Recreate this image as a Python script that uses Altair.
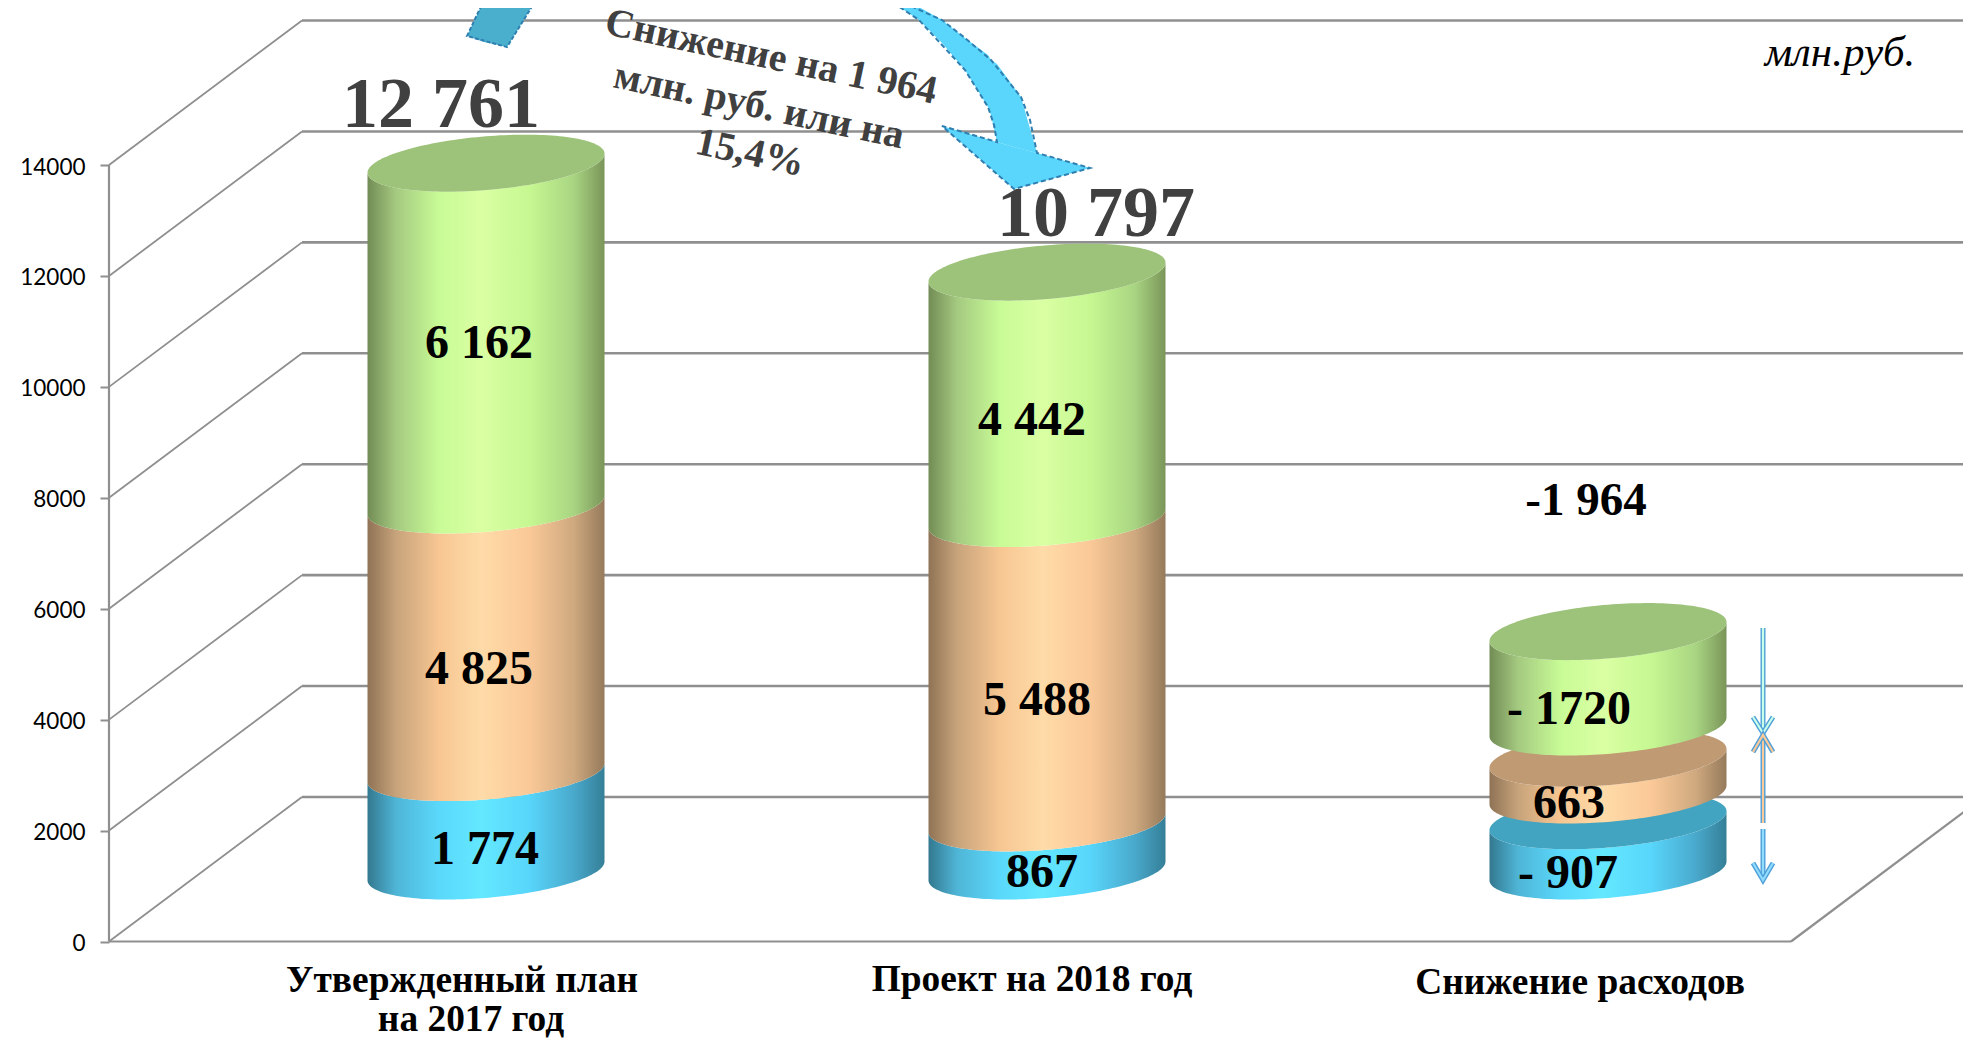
import numpy as np
import pandas as pd
import altair as alt

# ---- values ----
categories = ["Утвержденный план\nна 2017 год", "Проект на 2018 год", "Снижение расходов"]
blue_values = [1774, 867, 907]
orange_values = [4825, 5488, 663]
green_values = [6162, 4442, 1720]
bar_bases = [[0, 1774, 6599], [0, 867, 6355], [0, 1370, 2596]]
totals = ["12 761", "10 797", "-1 964"]
bar_centers = [486, 1047, 1608]
axis_ticks = [0, 2000, 4000, 6000, 8000, 10000, 12000, 14000]

# ---- page geometry (page pixels) ----
W, H = 1955, 1030
K = 776.5 / 14000      # px per unit on the value axis
Y0 = 941.5             # page y of value 0
def V(py):             # page y -> value
    return (Y0 - py) / K

DX, DV = 193, 144.5 / K    # depth of the floor
FX, FR = 109, 1791         # front floor ends
BAR_A = 118.5
BAR_DV = DV * 0.488        # bars stand in mid-depth
BAR_S, BAR_H = 9.5 / K, 26.9 / K
GREY = "#8f8f8f"

xs = alt.Scale(domain=[8, 8 + W], range=[0, W], nice=False, zero=False)
ys = alt.Scale(domain=[V(8 + H), V(8)], range=[H, 0], nice=False, zero=False)
value_axis = alt.Axis(
    values=axis_ticks, title=None, grid=False, domain=False, offset=-(FX - 8),
    tickColor=GREY, tickWidth=2, tickSize=9, labelPadding=15, labelOffset=2,
    labelFont="Lato", labelFontSize=22.5, labelColor="#000000", format="d")
X = lambda f="x": alt.X(f"{f}:Q", scale=xs, axis=None)
Y = lambda f="y": alt.Y(f"{f}:Q", scale=ys, axis=value_axis)
X2 = alt.X2("x2:Q")
Y2 = alt.Y2("y2:Q")

layers = []

# walls
wall = pd.DataFrame({
    "x": [FX] * 8, "x2": [FX + DX] * 8,
    "y": axis_ticks, "y2": [t + DV for t in axis_ticks],
})
layers.append(alt.Chart(wall).mark_rule(color=GREY, strokeWidth=1.8).encode(x=X(), x2=X2, y=Y(), y2=Y2))
back = pd.DataFrame({"x": [FX + DX] * 8, "x2": [8 + W] * 8, "y": [t + DV for t in axis_ticks]})
layers.append(alt.Chart(back).mark_rule(color=GREY, strokeWidth=2.6).encode(x=X(), x2=X2, y=Y()))
frame = pd.DataFrame({
    "x": [FX, FX, FR], "x2": [FX, FR, FR + DX],
    "y": [0, 0, 0], "y2": [14000, 0, DV],
})
layers.append(alt.Chart(frame).mark_rule(color=GREY, strokeWidth=2.2).encode(x=X(), x2=X2, y=Y(), y2=Y2))

# curved arrow passing above the chart
arrow_tail_x = [467, 484, 507, 536]
arrow_tail_top = [36, 0, 0, 0]
arrow_tail_bot = [36, 42, 47, 0]
layers.append(alt.Chart(pd.DataFrame({
    "x": arrow_tail_x, "y": [V(p) for p in arrow_tail_top], "y2": [V(p) for p in arrow_tail_bot],
})).mark_area(color="#4aafcd").encode(x=X(), y=Y(), y2=Y2))
tail_line_x = [484, 467, 507, 536]
tail_line_y = [0, 36, 47, 0]
layers.append(alt.Chart(pd.DataFrame({
    "x": tail_line_x, "y": [V(p) for p in tail_line_y], "o": range(4),
})).mark_line(color="#2f7fb0", strokeWidth=2, strokeDash=[4, 2]).encode(
    x=X(), y=Y(), order="o:Q"))

body_x = [889, 904, 919, 942, 965, 988, 991, 997, 1021, 1037]
body_top = [-4, 3, 7, 20, 38, 55, 60, 64, 97, 153]
body_bot = [0, 10, 20, 43, 70, 107, 115, 142, 149, 153]
layers.append(alt.Chart(pd.DataFrame({
    "x": body_x, "y": [V(p) for p in body_top], "y2": [V(p) for p in body_bot],
})).mark_area(color="#5ad6fd").encode(x=X(), y=Y(), y2=Y2))
head_x = [942, 997, 1014, 1037, 1090]
head_top = [126, 142, 147, 153, 168]
head_bot = [126, 174, 189, 183, 168]
layers.append(alt.Chart(pd.DataFrame({
    "x": head_x, "y": [V(p) for p in head_top], "y2": [V(p) for p in head_bot],
})).mark_area(color="#5ad6fd").encode(x=X(), y=Y(), y2=Y2))
outline_x = [904, 942, 965, 991, 1021, 1030, 1037, 1090, 1014, 942, 997, 994, 988, 965, 919, 889]
outline_y = [3, 20, 38, 60, 97, 120, 153, 168, 189, 126, 142, 125, 107, 70, 20, 0]
layers.append(alt.Chart(pd.DataFrame({
    "x": outline_x, "y": [V(p) for p in outline_y], "o": range(len(outline_x)),
})).mark_line(color="#2f7fb0", strokeWidth=2, strokeDash=[5, 3]).encode(
    x=X(), y=Y(), order="o:Q"))

# cylinders
def stops(cols):
    offs = [0, .12, .3, .48, .68, .87, 1]
    return {"gradient": "linear", "x1": 0, "x2": 1, "y1": 0, "y2": 0,
            "stops": [{"offset": o, "color": c} for o, c in zip(offs, cols)]}

GREEN = stops(["#728c55", "#a4c980", "#c8fb96", "#daffa3", "#c6f892", "#a9d582", "#7a9559"])
ORANGE = stops(["#8f7355", "#c7a37b", "#f7c692", "#fedba8", "#fbc998", "#cfa97f", "#957a5b"])
BLUE = stops(["#33788f", "#4fb5d6", "#5ad8fb", "#63e8ff", "#58d6fb", "#49a9cc", "#357f97"])
CAP = ["#42a4c0", "#c09a73", "#9dc27a"]
SIDES = [BLUE, ORANGE, GREEN]
u = -np.cos(np.linspace(0, np.pi, 81))

def front(v):
    return v + BAR_DV + BAR_S * u - BAR_H * np.sqrt(1 - u * u)
def rear(v):
    return v + BAR_DV + BAR_S * u + BAR_H * np.sqrt(1 - u * u)

for c, center in enumerate(bar_centers):
    seg = [blue_values[c], orange_values[c], green_values[c]]
    for s in range(3):
        lo = bar_bases[c][s]
        hi = lo + seg[s]
        df = pd.DataFrame({"x": center + BAR_A * u, "y": front(lo), "y2": front(hi)})
        layers.append(alt.Chart(df).mark_area(color=SIDES[s]).encode(x=X(), y=Y(), y2=Y2))
        if c == 2 or s == 2:
            cap = pd.DataFrame({"x": center + BAR_A * u, "y": front(hi), "y2": rear(hi)})
            layers.append(alt.Chart(cap).mark_area(color=CAP[s]).encode(x=X(), y=Y(), y2=Y2))

# small arrows beside the third cylinder
ARROW_X = 1763
shafts = [(628, 731), (735, 823), (829, 878)]
heads = [(717, 733, "#c8ffe8"), (752, 735, "#fcc998"), (863, 880, "#8fdcff")]
for (a, b), (w, t, hc) in zip(shafts, heads):
    shaft = pd.DataFrame({"x": [ARROW_X, ARROW_X], "y": [V(a), V(b)]})
    head = pd.DataFrame({"x": [ARROW_X - 10, ARROW_X, ARROW_X + 10], "y": [V(w), V(t), V(w)]})
    for d in (shaft, head):
        layers.append(alt.Chart(d).mark_line(color="#4f9fd8", strokeWidth=5).encode(x=X(), y=Y()))
        layers.append(alt.Chart(d).mark_line(color=hc, strokeWidth=2.2).encode(x=X(), y=Y()))

# texts
def text_layer(labels, xpos, ypos, size, color="#000000", angle=0, style="normal",
               weight="bold", font="Liberation Serif", baseline="alphabetic"):
    df = pd.DataFrame({"x": xpos, "y": [V(p) for p in ypos], "t": labels})
    return alt.Chart(df).mark_text(
        font=font, fontSize=size, fontWeight=weight, fontStyle=style, color=color,
        angle=angle, align="center", baseline=baseline,
    ).encode(x=X(), y=Y(), text="t:N")

layers.append(text_layer(totals[:2], [441, 1096], [127, 236], 72, "#404040"))
layers.append(text_layer([totals[2]], [1586], [515], 47))
seg_labels = ["1 774", "4 825", "6 162", "867", "5 488", "4 442", "- 907", "663", "- 1720"]
seg_x = [485, 479, 479, 1042, 1037, 1032, 1568, 1569, 1569]
seg_y = [864, 684, 358, 887, 715, 435, 888, 818, 724]
layers.append(text_layer(seg_labels, seg_x, seg_y, 48))
cat_labels = categories[0].split("\n") + categories[1:]
layers.append(text_layer(cat_labels, [462, 471, 1032, 1580], [992, 1031, 991, 994], 37.4))
layers.append(text_layer(["млн.руб."], [1840], [66], 43, style="italic", weight="normal"))
note_lines = ["Снижение на 1 964", "млн. руб. или на", "15,4%"]
layers.append(text_layer(note_lines, [771, 759, 750], [57, 106, 153], 40, "#404040", angle=12, baseline="middle"))

chart = alt.layer(*layers).properties(
    width=W, height=H, padding=0,
    autosize=alt.AutoSizeParams(type="none"), background="white",
).configure_view(stroke=None)

chart.save("out.html", embed_options={"renderer": "svg", "actions": False})
